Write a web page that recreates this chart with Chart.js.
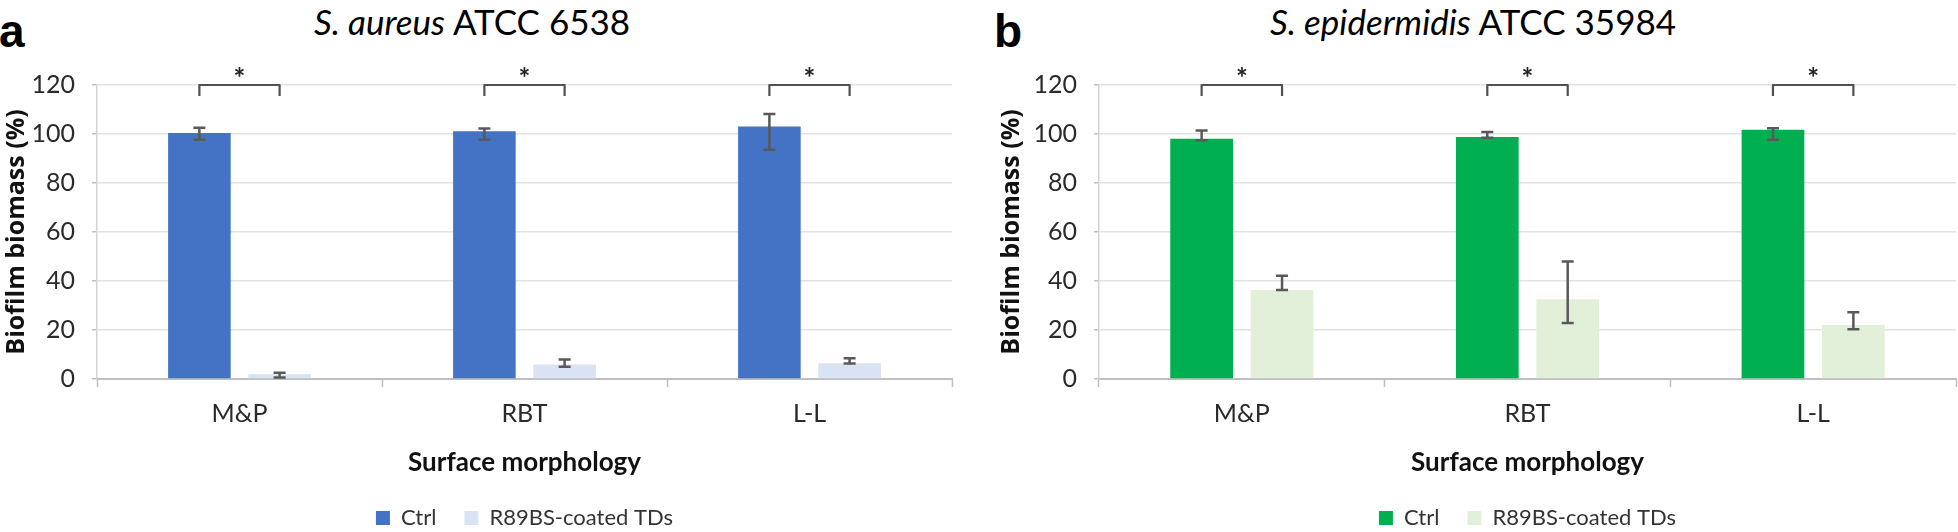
<!DOCTYPE html>
<html><head><meta charset="utf-8">
<script src="https://cdn.jsdelivr.net/npm/chart.js@4"></script>
<style>
html,body{margin:0;padding:0;background:#fff;overflow:hidden;width:1958px;height:532px;}
#wrapA{position:absolute;left:0;top:0;width:979px;height:539px;}
#wrapB{position:absolute;left:995px;top:0;width:963px;height:539px;}
.panel{position:absolute;font-family:'Liberation Sans',Arial,sans-serif;font-weight:bold;font-size:46px;line-height:46px;color:#000;}
.title{position:absolute;width:700px;text-align:center;font-family:Lato,sans-serif;font-size:35px;line-height:42px;color:#000;top:0;white-space:nowrap;}
</style></head>
<body>
<div class="panel" style="left:-1px;top:8px">a</div>
<div class="panel" style="left:994px;top:8px">b</div>
<div class="title" style="left:122px"><i>S. aureus</i> ATCC 6538</div>
<div class="title" style="left:1123px"><i>S. epidermidis</i> ATCC 35984</div>
<div id="wrapA"><canvas id="cA"></canvas></div>
<div id="wrapB"><canvas id="cB"></canvas></div>
<script>
// ---- data ----
const categories = ['M&P', 'RBT', 'L-L'];
const seriesNames = ['Ctrl', 'R89BS-coated TDs'];
const yTicks = [0, 20, 40, 60, 80, 100, 120];
const yAxisTitle = 'Biofilm biomass (%)';
const xAxisTitle = 'Surface morphology';

// panel a: S. aureus ATCC 6538
const aureusCtrl      = [100.4, 101.1, 103.1];
const aureusCtrlLow   = [97.7, 97.7, 93.6];
const aureusCtrlHigh  = [102.6, 102.2, 108.2];
const aureusCoated     = [1.9, 5.9, 6.4];
const aureusCoatedLow  = [0.6, 5.0, 6.3];
const aureusCoatedHigh = [2.6, 8.0, 8.5];
const aureusSignificant = [true, true, true];

// panel b: S. epidermidis ATCC 35984
const epiCtrl      = [98.1, 98.8, 101.7];
const epiCtrlLow   = [97.4, 98.5, 97.7];
const epiCtrlHigh  = [101.4, 100.8, 102.3];
const epiCoated     = [36.3, 32.6, 22.0];
const epiCoatedLow  = [36.3, 22.9, 20.3];
const epiCoatedHigh = [42.1, 48.0, 27.2];
const epiSignificant = [true, true, true];

// significance bracket levels (in axis units)
const bracketTop = 120;
const bracketLeg = 115.5;
const starLevel = 125.3;

// ---- plugins ----
const errorBarPlugin = {
  id: 'errorBars',
  afterDatasetsDraw(chart) {
    const ctx = chart.ctx, y = chart.scales.y;
    chart.data.datasets.forEach((ds, di) => {
      const meta = chart.getDatasetMeta(di);
      meta.data.forEach((bar, i) => {
        const x = bar.x;
        const yl = y.getPixelForValue(ds.errLow[i]);
        const yh = y.getPixelForValue(ds.errHigh[i]);
        ctx.save();
        ctx.strokeStyle = '#595959';
        ctx.lineWidth = 2.5;
        ctx.beginPath();
        ctx.moveTo(x, yl); ctx.lineTo(x, yh);
        ctx.moveTo(x - 6, yl); ctx.lineTo(x + 6, yl);
        ctx.moveTo(x - 6, yh); ctx.lineTo(x + 6, yh);
        ctx.stroke();
        ctx.restore();
      });
    });
  }
};

const bracketPlugin = {
  id: 'brackets',
  afterDraw(chart, args, opts) {
    const ctx = chart.ctx, y = chart.scales.y;
    const m0 = chart.getDatasetMeta(0), m1 = chart.getDatasetMeta(1);
    (opts.flags || []).forEach((flag, i) => {
      if (!flag) return;
      const x0 = m0.data[i].x, x1 = m1.data[i].x;
      const yt = y.getPixelForValue(bracketTop), yl = y.getPixelForValue(bracketLeg);
      ctx.save();
      ctx.strokeStyle = '#505050';
      ctx.lineWidth = 2.2;
      ctx.lineJoin = 'round';
      ctx.beginPath();
      ctx.moveTo(x0, yl); ctx.lineTo(x0, yt); ctx.lineTo(x1, yt); ctx.lineTo(x1, yl);
      ctx.stroke();
      ctx.fillStyle = '#222';
      ctx.font = 'bold 28px Lato, sans-serif';
      ctx.textAlign = 'center';
      ctx.textBaseline = 'alphabetic';
      const mt = ctx.measureText('*');
      const cy = y.getPixelForValue(starLevel);
      ctx.fillText('*', (x0 + x1) / 2, cy + (mt.actualBoundingBoxAscent - mt.actualBoundingBoxDescent) / 2);
      ctx.restore();
    });
  }
};

Chart.defaults.font.family = 'Lato, sans-serif';
Chart.defaults.color = '#333';

function makeChart(canvasId, cfg) {
  return new Chart(document.getElementById(canvasId), {
    type: 'bar',
    data: {
      labels: categories,
      datasets: [
        { label: seriesNames[0], data: cfg.ctrl, errLow: cfg.ctrlLow, errHigh: cfg.ctrlHigh,
          backgroundColor: cfg.colors[0], borderWidth: 0,
          categoryPercentage: 0.563, barPercentage: 0.78 },
        { label: seriesNames[1], data: cfg.coated, errLow: cfg.coatedLow, errHigh: cfg.coatedHigh,
          backgroundColor: cfg.colors[1], borderWidth: 0,
          categoryPercentage: 0.563, barPercentage: 0.78 }
      ]
    },
    options: {
      responsive: true,
      maintainAspectRatio: false,
      animation: false,
      devicePixelRatio: 1,
      layout: { padding: { top: 85, right: cfg.padRight, left: 0, bottom: 0 } },
      plugins: {
        legend: {
          position: 'bottom',
          fullSize: false,
          labels: { font: { size: 22 }, boxWidth: 14, boxHeight: 14, padding: 28, color: '#333' }
        },
        tooltip: { enabled: false },
        brackets: { flags: cfg.sig }
      },
      scales: {
        x: {
          afterFit(s) { s.height = 100; },
          grid: { display: true, offset: true, drawOnChartArea: false, drawTicks: true,
                  tickLength: 8, tickColor: '#bfbfbf', tickWidth: 1.5 },
          border: { display: true, color: '#bfbfbf', width: 2 },
          ticks: { font: { size: 25 }, color: '#2a2a2a', padding: 12 },
          title: { display: true, text: xAxisTitle, color: '#111',
                   font: { size: 26, weight: 'bold' }, padding: { top: 0, bottom: 1 } }
        },
        y: {
          min: 0, max: 120,
          afterFit(s) { s.width = cfg.yWidth; },
          afterBuildTicks(s) { s.ticks = yTicks.map(v => ({ value: v })); },
          grid: { color: '#e2e2e2', lineWidth: 1.5, drawTicks: true, tickLength: 5,
                  tickColor: '#bfbfbf', tickWidth: 1.5 },
          border: { display: true, color: '#d4d4d4', width: 1.5 },
          ticks: { font: { size: 25 }, color: '#2a2a2a', padding: 17 },
          title: { display: true, text: yAxisTitle, color: '#111',
                   font: { family: "'Open Sans', sans-serif", size: 25, weight: 'bold' },
                   padding: { top: 2, bottom: 0 } }
        }
      }
    },
    plugins: [errorBarPlugin, bracketPlugin]
  });
}

makeChart('cA', {
  ctrl: aureusCtrl, ctrlLow: aureusCtrlLow, ctrlHigh: aureusCtrlHigh,
  coated: aureusCoated, coatedLow: aureusCoatedLow, coatedHigh: aureusCoatedHigh,
  sig: aureusSignificant, colors: ['#4472C4', '#DAE3F3'], padRight: 27, yWidth: 97
});
makeChart('cB', {
  ctrl: epiCtrl, ctrlLow: epiCtrlLow, ctrlHigh: epiCtrlHigh,
  coated: epiCoated, coatedLow: epiCoatedLow, coatedHigh: epiCoatedHigh,
  sig: epiSignificant, colors: ['#00B050', '#E2F0D9'], padRight: 2, yWidth: 104
});
</script>
</body></html>
